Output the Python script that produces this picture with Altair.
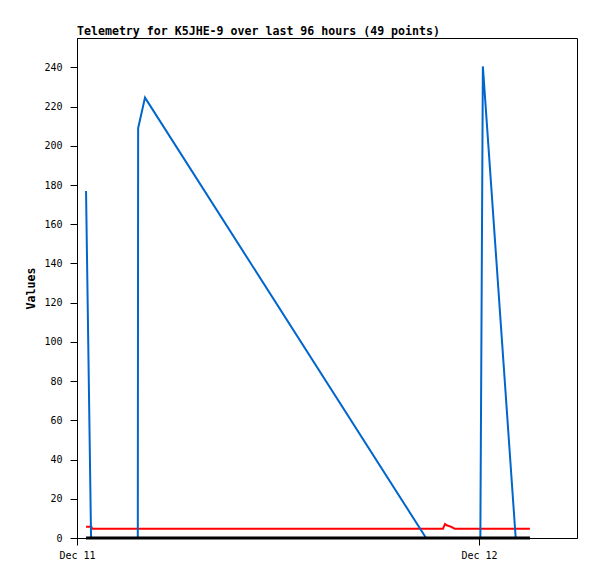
import altair as alt
import pandas as pd

# hours after Dec 11 00:00 and values
blue_hours = [0.54, 0.84, 3.63, 3.65, 4.06, 20.84, 24.08, 24.23, 26.19]
blue_values = [177, 0, 0, 209, 224.6, 0, 0, 240.5, 0]

red_hours = [0.54, 0.86, 0.90, 21.85, 21.97, 22.07, 22.31, 22.55, 27.04]
red_values = [5.8, 5.8, 4.75, 4.75, 7.15, 6.5, 5.8, 4.75, 4.75]

black_hours = [0.54, 27.04]
black_values = [0, 0]

y_ticks = list(range(0, 241, 20))
base = pd.Timestamp("2023-12-11 00:00:00")


def frame(hours, values, name):
    return pd.DataFrame({
        "time": [base + pd.to_timedelta(h, unit="h") for h in hours],
        "value": values,
        "series": name,
    })


blue_df = frame(blue_hours, blue_values, "blue")
red_df = frame(red_hours, red_values, "red")
black_df = frame(black_hours, black_values, "black")

x_scale = alt.Scale(domain=[alt.DateTime(year=2023, month=12, date=11, hours=0),
                            alt.DateTime(year=2023, month=12, date=12, hours=5, minutes=51)])
y_scale = alt.Scale(domain=[0, 255], nice=False)

x_axis = alt.Axis(
    title=None,
    values=[alt.DateTime(year=2023, month=12, date=11),
            alt.DateTime(year=2023, month=12, date=12)],
    format="%b %d",
    tickSize=7, labelPadding=5, grid=False, labelFlush=False, labelOverlap=False,
    labelFont="DejaVu Sans Mono", labelFontSize=10, labelColor="black",
    domainColor="black", tickColor="black",
)
y_axis = alt.Axis(
    title="Values", values=y_ticks, tickSize=7, labelPadding=8, grid=False,
    labelFont="DejaVu Sans Mono", labelFontSize=10, labelColor="black",
    titleFont="DejaVu Sans Mono", titleFontSize=11.6, titleFontWeight="bold",
    titleColor="black", titlePadding=7,
    domainColor="black", tickColor="black",
)


def line(df, color, width):
    return alt.Chart(df).mark_line(color=color, strokeWidth=width, interpolate="linear").encode(
        x=alt.X("time:T", scale=x_scale, axis=x_axis),
        y=alt.Y("value:Q", scale=y_scale, axis=y_axis),
    )


chart = alt.layer(
    line(red_df, "#ff0000", 2),
    line(blue_df, "#0066cc", 2),
    line(black_df, "#000000", 3),
).properties(
    width=500, height=500,
    title=alt.TitleParams(
        "Telemetry for K5JHE-9 over last 96 hours (49 points)",
        anchor="start", frame="group", font="DejaVu Sans Mono", fontSize=11.6,
        fontWeight="bold", color="black", offset=2, baseline="bottom", dy=13,
    ),
    autosize=alt.AutoSizeParams(type="none"),
    padding={"left": 69, "top": 30, "right": 12, "bottom": 33},
).configure_view(stroke="black", strokeWidth=1)

chart.save("out.html", embed_options={"renderer": "svg", "actions": False})
